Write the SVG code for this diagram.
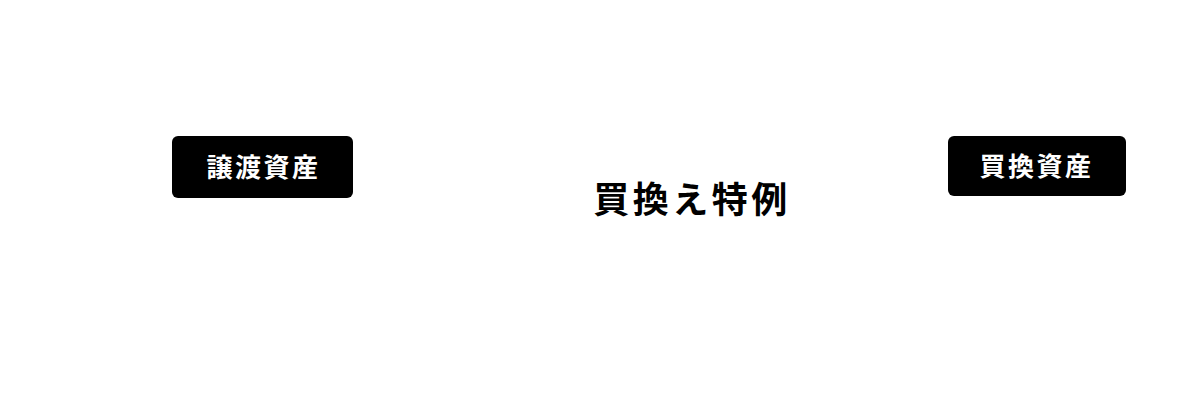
<svg xmlns="http://www.w3.org/2000/svg" width="1200" height="404" viewBox="0 0 1200 404">
<style>
.box{fill:#000}
.lbl{font-family:"Noto Sans CJK JP",sans-serif;font-weight:bold;font-size:26px;fill:#fff;text-anchor:middle;letter-spacing:2.5px}
.title{font-family:"Noto Sans CJK JP",sans-serif;font-weight:bold;font-size:36px;fill:#000;text-anchor:middle;letter-spacing:3.5px}
</style>
<rect width="1200" height="404" fill="#fff"/>
<g id="node-left">
<rect class="box" x="172" y="136" width="181" height="62" rx="6"/>
<text class="lbl" x="263.5" y="177">譲渡資産</text>
</g>
<g id="node-center">
<text class="title" x="692" y="213">買換え特例</text>
</g>
<g id="node-right">
<rect class="box" x="948" y="136" width="178" height="60" rx="6"/>
<text class="lbl" x="1036.5" y="176">買換資産</text>
</g>
<g id="connectors"></g>
</svg>
